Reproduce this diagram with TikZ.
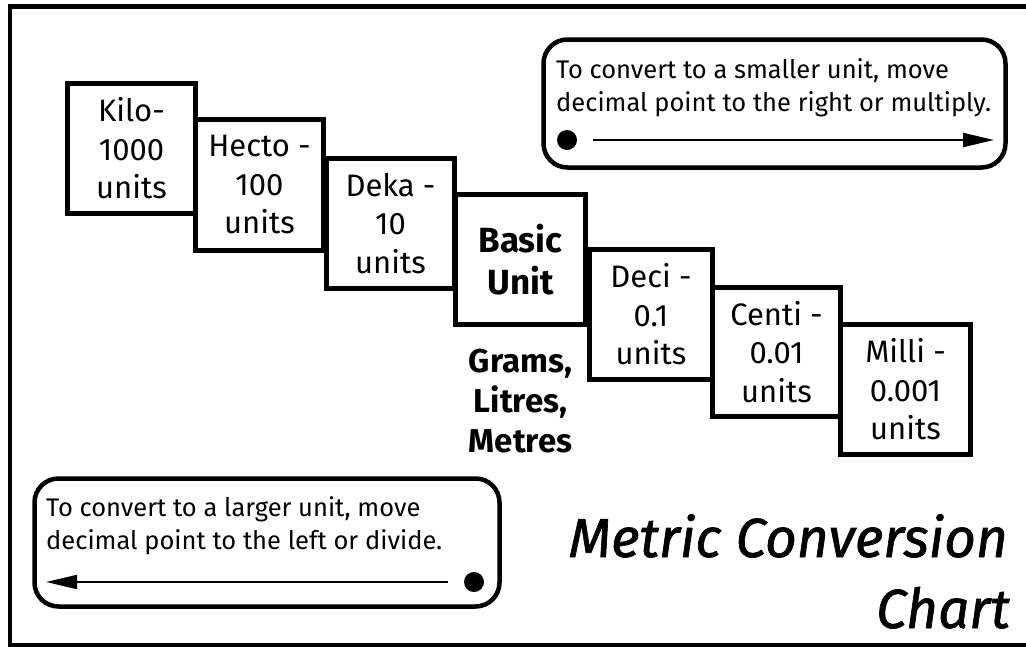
\documentclass[tikz,border=0pt]{standalone}
\usepackage{fontspec}
\setmainfont{Fira Sans}
\newfontfamily\titlefont[FakeBold=1.2]{Fira Sans}
\usetikzlibrary{arrows.meta}

\tikzset{
  unitbox/.style={draw, line width=5pt, fill=white, align=center,
    inner sep=0pt, font=\fontsize{31}{38.5}\selectfont},
  basebox/.style={unitbox, font=\bfseries\fontsize{35}{42}\selectfont},
  callout/.style={draw, line width=4.5pt, rounded corners=24pt, inner sep=0pt},
  notetext/.style={anchor=north west, align=left, inner sep=0pt,
    font=\fontsize{25.5}{33}\selectfont},
  dotmark/.style={circle, fill=black, inner sep=0pt, minimum size=20pt},
  convarrow/.style={line width=2pt, -{Triangle[length=31pt,width=14pt]}},
  titletext/.style={font=\titlefont\itshape\fontsize{55}{70}\selectfont, anchor=base east, inner sep=0pt}
}

\begin{document}
\begin{tikzpicture}[x=1pt,y=-1pt]
\useasboundingbox (0,0) rectangle (1026,646);
\clip (0,0) rectangle (1026,646);

% page frame, running off the right and bottom edges
\draw[line width=4.5pt] (10,6.5) rectangle (1060,645.5);

% staircase of prefixes, largest at the top left
\node[unitbox, minimum width=128pt, minimum height=130pt] (kilo)  at (131.5,148.5) {Kilo-\\1000\\units};
\node[unitbox, minimum width=128pt, minimum height=131pt] (hecto) at (259.5,185)   {Hecto -\\100\\units};
\node[unitbox, minimum width=128pt, minimum height=130pt] (deka)  at (390.5,223.5) {Deka -\\10\\units};
\node[basebox, minimum width=130pt, minimum height=130pt] (basic) at (520.5,259.5) {Basic\\Unit};
\node[unitbox, minimum width=123pt, minimum height=130pt] (deci)  at (651,314.5)   {Deci -\\0.1\\units};
\node[unitbox, minimum width=128pt, minimum height=129pt] (centi) at (776.5,352)   {Centi -\\0.01\\units};
\node[unitbox, minimum width=130pt, minimum height=130pt] (milli) at (905.5,389.5) {Milli -\\0.001\\units};

% base units listed under the middle step
\node[anchor=north, align=center, inner sep=0pt,
      font=\bfseries\fontsize{33}{40}\selectfont] (bases) at (520.5,349)
      {Grams,\\Litres,\\Metres};

% note: towards smaller units
\node[callout, minimum width=462pt, minimum height=128pt] (smallnote) at (774.5,103.5) {};
\node[notetext] (smalltext) at (556,58)
  {To convert to a smaller unit, move\\decimal point to the right or multiply.};
\node[dotmark] (rdot) at (567,140) {};
\coordinate (rstart) at (593,140);
\coordinate (rend) at (994,140);
\draw[convarrow] (rstart) -- (rend);

% note: towards larger units
\node[callout, minimum width=465pt, minimum height=128pt] (largenote) at (267,542.5) {};
\node[notetext] (largetext) at (46,496)
  {To convert to a larger unit, move\\decimal point to the left or divide.};
\node[dotmark] (ldot) at (474,582) {};
\coordinate (lstart) at (448,582);
\coordinate (lend) at (46,582);
\draw[convarrow] (lstart) -- (lend);

% title
\node[titletext] (title1) at (1008,557) {Metric Conversion};
\node[titletext] (title2) at (1010,628) {Chart};
\end{tikzpicture}
\end{document}
